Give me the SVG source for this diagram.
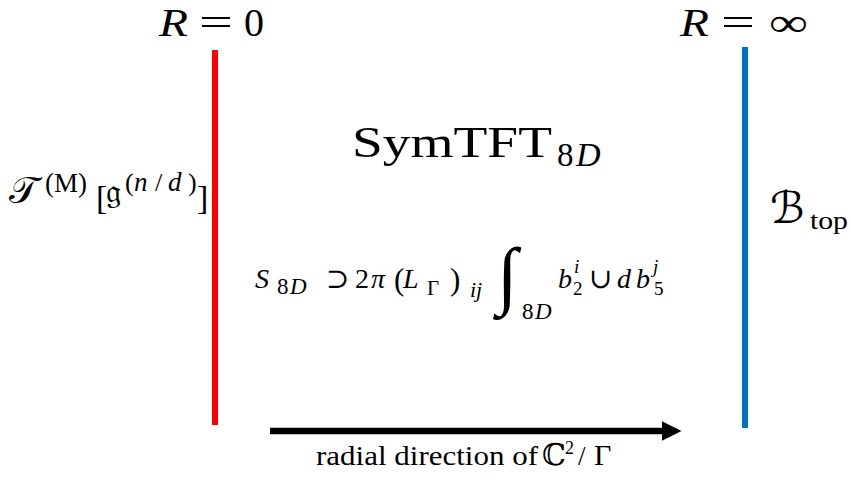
<svg xmlns="http://www.w3.org/2000/svg" width="851" height="485" viewBox="0 0 851 485">
<style>
text{font-family:"Liberation Serif","DejaVu Serif","DejaVu Sans",serif;fill:#000}
.it{font-style:italic}
</style>
<defs>
<marker id="ah" viewBox="0 0 10 10" refX="0" refY="5" markerWidth="3" markerHeight="3" orient="auto" markerUnits="strokeWidth">
<path d="M0,0 L10,5 L0,10 z" fill="#000"/>
</marker>
</defs>
<rect width="851" height="485" fill="#fff"/>
<g id="left-boundary">
<line x1="215" y1="50" x2="215" y2="425" stroke="#ff0000" stroke-width="6"/>
<text x="159" y="36" font-size="40" class="it" textLength="29" lengthAdjust="spacingAndGlyphs">R</text>
<text x="199" y="36" font-size="40" textLength="34" lengthAdjust="spacingAndGlyphs">=</text>
<text x="244" y="36" font-size="40">0</text>
<text x="9" y="203" font-size="38">𝒯</text>
<text x="45" y="192" font-size="27">(M)</text>
<text x="96" y="209" font-size="34">[</text>
<text x="106" y="203" font-size="34">𝔤</text>
<text x="125" y="191" font-size="26">(</text>
<text x="134" y="191" font-size="27" class="it">n</text>
<text x="155" y="191" font-size="26">/</text>
<text x="168" y="191" font-size="27" class="it">d</text>
<text x="188" y="191" font-size="26">)</text>
<text x="197" y="209" font-size="34">]</text>
</g>
<g id="right-boundary">
<line x1="745" y1="47" x2="745" y2="428" stroke="#0070c0" stroke-width="6"/>
<text x="680" y="36" font-size="40" class="it" textLength="29" lengthAdjust="spacingAndGlyphs">R</text>
<text x="721" y="36" font-size="40" textLength="34" lengthAdjust="spacingAndGlyphs">=</text>
<text x="769" y="36" font-size="40" textLength="39" lengthAdjust="spacingAndGlyphs">∞</text>
<text x="770" y="223" font-size="44">ℬ</text>
<text x="810" y="229" font-size="26" textLength="38" lengthAdjust="spacingAndGlyphs">top</text>
</g>
<g id="bulk">
<text x="352" y="157" font-size="45" textLength="200" lengthAdjust="spacingAndGlyphs">SymTFT</text>
<text x="557" y="166" font-size="33">8</text>
<text x="576" y="166" font-size="34" class="it">D</text>
<text x="255" y="288" font-size="28" class="it">S</text>
<text x="277" y="294" font-size="23">8</text>
<text x="290" y="294" font-size="23" class="it">D</text>
<text x="326" y="288" font-size="28">⊃</text>
<text x="355" y="288" font-size="28">2</text>
<text x="371" y="288" font-size="28" class="it">π</text>
<text x="394" y="290" font-size="31">(</text>
<text x="403" y="288" font-size="28" class="it">L</text>
<text x="427" y="295" font-size="21">Γ</text>
<text x="450" y="290" font-size="31">)</text>
<text x="470" y="297" font-size="22" class="it">ij</text>
<text x="497" y="300" font-size="75">∫</text>
<text x="522" y="319" font-size="23">8</text>
<text x="535" y="319" font-size="23" class="it">D</text>
<text x="558" y="288" font-size="28" class="it">b</text>
<text x="574" y="273" font-size="19" class="it">i</text>
<text x="573" y="295" font-size="19">2</text>
<text x="589" y="288" font-size="28">∪</text>
<text x="617" y="288" font-size="28" class="it">d</text>
<text x="636" y="288" font-size="28" class="it">b</text>
<text x="653" y="273" font-size="19" class="it">j</text>
<text x="654" y="295" font-size="19">5</text>
</g>
<g id="connectors">
<line x1="270" y1="431" x2="662" y2="431" stroke="#000" stroke-width="6.5" marker-end="url(#ah)"/>
</g>
<g id="axis-label">
<text x="316" y="465" font-size="27" textLength="222" lengthAdjust="spacingAndGlyphs">radial direction of</text>
<text x="542" y="465" font-size="30">ℂ</text>
<text x="565" y="454" font-size="18">2</text>
<text x="578" y="465" font-size="27">/</text>
<text x="594" y="465" font-size="30">Γ</text>
</g>
</svg>
